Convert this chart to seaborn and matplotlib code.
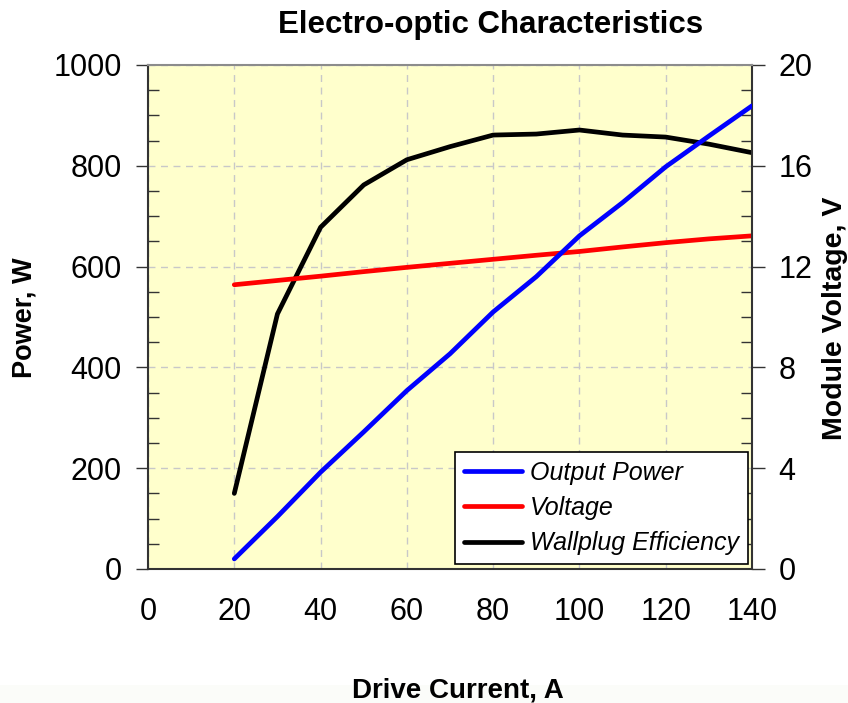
import numpy as np
import pandas as pd
import matplotlib
matplotlib.use('Agg')
import matplotlib.pyplot as plt
from matplotlib.ticker import MultipleLocator
from matplotlib.patches import Rectangle
import seaborn as sns

# dados
corrente = [20, 30, 40, 50, 60, 70, 80, 90, 100, 110, 120, 130, 140]
potencia = [20, 104, 192, 272, 354, 427, 510, 580, 661, 727, 798, 859, 919]
tensao = [11.28, 11.45, 11.62, 11.80, 11.97, 12.13, 12.29, 12.45, 12.60, 12.78, 12.95, 13.10, 13.22]
eficiencia = [7.5, 25.3, 33.9, 38.1, 40.6, 41.9, 43.05, 43.15, 43.55, 43.05, 42.85, 42.15, 41.3]  # %

df = pd.DataFrame({'corrente': corrente, 'potencia': potencia,
                   'tensao': tensao, 'eficiencia': eficiencia})

sns.set_style('white')
plt.rcParams['font.family'] = ['Liberation Sans', 'DejaVu Sans']
plt.rcParams['text.color'] = 'black'
plt.rcParams['axes.labelcolor'] = 'black'
plt.rcParams['xtick.color'] = 'black'
plt.rcParams['ytick.color'] = 'black'

fig = plt.figure(figsize=(8.48, 7.03), dpi=100)
fig.patch.set_facecolor('white')
# faixa clara no rodapé
fig.patches.append(Rectangle((0, 0), 1, 18 / 703, transform=fig.transFigure,
                             facecolor='#fbfcf9', edgecolor='none', zorder=0))

ax = fig.add_axes([148 / 848, 1 - 569 / 703, 604 / 848, 504 / 703])
ax3 = ax.twinx()   # eficiencia (eixo escondido, fica por baixo)
ax2 = ax.twinx()   # tensao

ax3.set_zorder(1)
ax2.set_zorder(2)
ax.set_zorder(3)
ax.patch.set_visible(False)
ax2.patch.set_visible(False)
ax3.patch.set_facecolor('#ffffcc')
ax3.patch.set_visible(True)

lw = 3.4
sns.lineplot(data=df, x='corrente', y='eficiencia', ax=ax3, color='black', linewidth=lw,
             label='Wallplug Efficiency', legend=False)
sns.lineplot(data=df, x='corrente', y='tensao', ax=ax2, color='#ff0000', linewidth=lw,
             label='Voltage', legend=False)
sns.lineplot(data=df, x='corrente', y='potencia', ax=ax, color='#0000ff', linewidth=lw,
             label='Output Power', legend=False)

ax.set_xlim(0, 140)
ax.set_ylim(0, 1000)
ax2.set_ylim(0, 20)
ax3.set_ylim(0, 50)

# grade no eixo de baixo
ax3.xaxis.set_visible(True)
ax3.set_yticks(np.arange(0, 51, 10))
ax3.xaxis.set_major_locator(MultipleLocator(20))
ax3.grid(True, color='#c8c8c8', linestyle=(0, (5, 4)), linewidth=1)
ax3.tick_params(axis='both', which='both', length=0, labelleft=False, labelright=False,
                labelbottom=False)
for s in ax3.spines.values():
    s.set_visible(False)

ax.xaxis.set_major_locator(MultipleLocator(20))
ax.xaxis.set_minor_locator(MultipleLocator(10))
ax.yaxis.set_major_locator(MultipleLocator(200))
ax.yaxis.set_minor_locator(MultipleLocator(50))
ax2.yaxis.set_major_locator(MultipleLocator(4))
ax2.yaxis.set_minor_locator(MultipleLocator(1))

ax.tick_params(axis='x', which='major', direction='inout', length=16, width=1, pad=12,
               labelsize=22, color='#333333')
ax.tick_params(axis='x', which='minor', direction='in', length=7, width=1, color='#333333')
ax.tick_params(axis='y', which='major', direction='out', length=9, width=1, pad=10,
               labelsize=22, color='#333333')
ax.tick_params(axis='y', which='minor', direction='in', length=8, width=1, color='#333333')
ax2.tick_params(axis='y', which='major', direction='out', length=9, width=1, pad=10,
                labelsize=22, color='#333333')
ax2.tick_params(axis='y', which='minor', direction='in', length=8, width=1, color='#333333')
ax2.tick_params(axis='x', length=0)

for s in ['left', 'bottom']:
    ax.spines[s].set_color('#333333')
    ax.spines[s].set_linewidth(1.5)
ax.spines['top'].set_color('#8c8c8c')
ax.spines['top'].set_linewidth(1.5)
ax.spines['right'].set_visible(False)
for s in ['left', 'top', 'bottom']:
    ax2.spines[s].set_visible(False)
ax2.spines['right'].set_color('#333333')
ax2.spines['right'].set_linewidth(1.5)

ax.set_xlabel('')
ax.set_ylabel('')
ax2.set_ylabel('')
ax3.set_ylabel('')
ax3.set_xlabel('')

fig.text(491 / 848, 1 - 25 / 703, 'Electro-optic Characteristics', ha='center', va='center',
         fontsize=22.5, fontweight='bold')
fig.text(458 / 848, 1 - 690 / 703, 'Drive Current, A', ha='center', va='center',
         fontsize=20, fontweight='bold')
fig.text(25 / 848, 1 - 318 / 703, 'Power, W', ha='center', va='center', rotation=90,
         fontsize=19.5, fontweight='bold')
fig.text(835 / 848, 1 - 318 / 703, 'Module Voltage, V', ha='center', va='center', rotation=90,
         fontsize=20.5, fontweight='bold')

# legenda
handles = []
for a in [ax, ax2, ax3]:
    h, l = a.get_legend_handles_labels()
    handles += h
leg = ax.legend(handles=handles, loc='lower right', bbox_to_anchor=(748 / 848, 1 - 564 / 703),
                bbox_transform=fig.transFigure, frameon=True, fancybox=False,
                prop={'style': 'italic', 'size': 18}, handlelength=2.3, handletextpad=0.35,
                labelspacing=0.45, borderpad=0.35, borderaxespad=0)
leg.get_frame().set_edgecolor('black')
leg.get_frame().set_linewidth(1.2)
leg.get_frame().set_facecolor('white')
leg.get_frame().set_alpha(1)

fig.savefig('out.png', dpi=100)
